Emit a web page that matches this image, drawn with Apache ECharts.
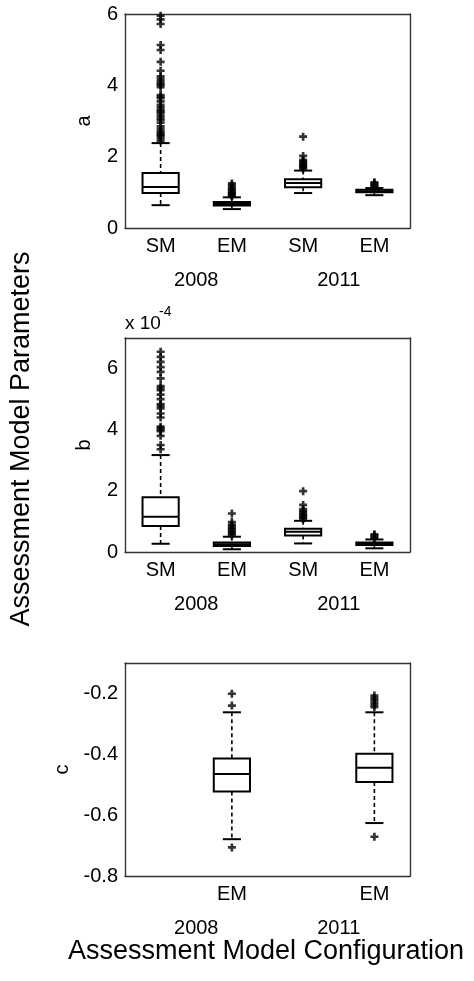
<!DOCTYPE html>
<html>
<head>
<meta charset="utf-8">
<script src="https://cdn.jsdelivr.net/npm/echarts@6/dist/echarts.min.js"></script>
<style>
  html, body { margin: 0; padding: 0; background: #fff; }
  #chart { width: 474px; height: 981px; }
</style>
</head>
<body>
<div id="chart"></div>
<script>
// Model configurations along each x axis, grouped by assessment year
const configLabels = ['SM', 'EM', 'SM', 'EM'];
const categoryKeys = ['SM 2008', 'EM 2008', 'SM 2011', 'EM 2011'];
const yearLabels = ['2008', '2011'];

// Box summaries per configuration: [lower whisker, Q1, median, Q3, upper whisker]
const aBoxes = [
  [0.64, 0.98, 1.15, 1.54, 2.38],
  [0.53, 0.63, 0.67, 0.73, 0.86],
  [0.98, 1.14, 1.26, 1.37, 1.61],
  [0.92, 1.00, 1.03, 1.07, 1.12]
];
// parameter b, in units of 1e-4
const bBoxes = [
  [0.27, 0.85, 1.15, 1.79, 3.17],
  [0.09, 0.20, 0.25, 0.31, 0.50],
  [0.28, 0.54, 0.66, 0.76, 1.02],
  [0.12, 0.23, 0.27, 0.31, 0.41]
];
const cBoxes = [
  null,
  [-0.679, -0.522, -0.465, -0.414, -0.262],
  null,
  [-0.626, -0.491, -0.444, -0.398, -0.262]
];

// Outlying values per configuration
const aOutliers = [
  [2.45, 2.52, 2.58, 2.61, 2.66, 2.71, 2.78, 2.85, 2.95, 3.02, 3.08, 3.15, 3.22, 3.27, 3.31,
   3.38, 3.45, 3.55, 3.64, 3.68, 3.73, 3.95, 4.01, 4.05, 4.11, 4.18, 4.25, 4.41, 4.66, 4.99,
   5.13, 5.72, 5.85, 5.95],
  [0.89, 0.92, 0.95, 0.98, 1.02, 1.06, 1.10, 1.15, 1.20, 1.25],
  [1.66, 1.70, 1.73, 1.76, 1.79, 1.83, 1.87, 1.91, 2.02, 2.56],
  [1.15, 1.18, 1.21, 1.25, 1.28]
];
const bOutliers = [
  [3.36, 3.50, 3.80, 3.95, 4.00, 4.05, 4.10, 4.40, 4.53, 4.70, 4.78, 4.84, 5.00, 5.15, 5.29,
   5.36, 5.43, 5.68, 5.89, 6.05, 6.22, 6.38, 6.55],
  [0.55, 0.60, 0.65, 0.70, 0.75, 0.80, 0.85, 0.90, 0.98, 1.26],
  [1.08, 1.12, 1.16, 1.20, 1.25, 1.30, 1.34, 1.40, 1.54, 1.99],
  [0.45, 0.50, 0.54, 0.58]
];
const cOutliers = [
  [],
  [-0.706, -0.240, -0.201],
  [],
  [-0.671, -0.245, -0.238, -0.230, -0.222, -0.215, -0.207]
];

// y-axis ranges and tick spacing for the three panels
const yRanges = [
  { name: 'a', min: 0, max: 6, interval: 2 },
  { name: 'b', min: 0, max: 7, interval: 2 },
  { name: 'c', min: -0.8, max: -0.1, interval: 0.2 }
];

const FONT = 'Liberation Sans, Arial, sans-serif';
const AXIS_COLOR = '#333';
const PLUS = 'path://M2,0H4V2H6V4H4V6H2V4H0V2H2Z';

const panels = [
  { boxes: aBoxes, outliers: aOutliers, top: 14, height: 214, nameGap: 31 },
  { boxes: bBoxes, outliers: bOutliers, top: 338, height: 214, nameGap: 31 },
  { boxes: cBoxes, outliers: cOutliers, top: 663, height: 213, nameGap: 42 }
];

function boxRenderer(params, api) {
  const x = api.value(0);
  const pLow = api.coord([x, api.value(1)]);
  const pQ1 = api.coord([x, api.value(2)]);
  const pMed = api.coord([x, api.value(3)]);
  const pQ3 = api.coord([x, api.value(4)]);
  const pHigh = api.coord([x, api.value(5)]);
  const band = api.size([1, 0])[0];
  const halfBox = band * 0.254;
  const halfCap = band * 0.127;
  const cx = pMed[0];
  const solid = { stroke: '#000', lineWidth: 2 };
  const dashed = { stroke: '#000', lineWidth: 1.6, lineDash: [4, 3] };
  return {
    type: 'group',
    children: [
      { type: 'line', shape: { x1: cx, y1: pHigh[1], x2: cx, y2: pQ3[1] }, style: dashed },
      { type: 'line', shape: { x1: cx, y1: pQ1[1], x2: cx, y2: pLow[1] }, style: dashed },
      { type: 'line', shape: { x1: cx - halfCap, y1: pHigh[1], x2: cx + halfCap, y2: pHigh[1] }, style: solid },
      { type: 'line', shape: { x1: cx - halfCap, y1: pLow[1], x2: cx + halfCap, y2: pLow[1] }, style: solid },
      { type: 'rect', shape: { x: cx - halfBox, y: pQ3[1], width: halfBox * 2, height: pQ1[1] - pQ3[1] },
        style: { stroke: '#000', lineWidth: 2, fill: '#fff' } },
      { type: 'line', shape: { x1: cx - halfBox, y1: pMed[1], x2: cx + halfBox, y2: pMed[1] }, style: solid }
    ]
  };
}

const grid = [], xAxis = [], yAxis = [], series = [];
const lineStyle = { color: AXIS_COLOR, width: 1.4 };
const axisLine = { show: true, onZero: false, lineStyle: lineStyle };
const tickStyle = { inside: true, length: 4, lineStyle: lineStyle };

panels.forEach(function (p, i) {
  const range = yRanges[i];
  grid.push({ left: 125, width: 285, top: p.top, height: p.height, containLabel: false });

  const shownLabels = configLabels.map(function (lab, k) { return p.boxes[k] ? lab : ''; });
  // configuration labels on the bottom edge
  xAxis.push({
    gridIndex: i, type: 'category', data: categoryKeys, position: 'bottom',
    axisLine: axisLine,
    axisTick: Object.assign({ alignWithLabel: true, interval: 0 }, tickStyle),
    axisLabel: {
      interval: 0, margin: 8, fontSize: 20, color: '#000', fontFamily: FONT,
      formatter: function (v, idx) { return shownLabels[idx]; }
    },
    splitLine: { show: false }
  });
  // mirrored top edge
  xAxis.push({
    gridIndex: i, type: 'category', data: categoryKeys, position: 'top',
    axisLine: axisLine,
    axisTick: Object.assign({ alignWithLabel: true, interval: 0 }, tickStyle),
    axisLabel: { show: false }, splitLine: { show: false }
  });
  // year row beneath the configuration labels
  xAxis.push({
    gridIndex: i, type: 'category', data: yearLabels, position: 'bottom', offset: 34,
    axisLine: { show: false, onZero: false }, axisTick: { show: false },
    axisLabel: { interval: 0, margin: 8, fontSize: 20, color: '#000', fontFamily: FONT },
    splitLine: { show: false }
  });

  yAxis.push({
    gridIndex: i, type: 'value', position: 'left',
    min: range.min, max: range.max, interval: range.interval,
    name: range.name, nameLocation: 'middle', nameGap: p.nameGap,
    nameTextStyle: { fontSize: 20, color: '#000', fontFamily: FONT },
    axisLine: axisLine,
    axisTick: tickStyle,
    axisLabel: {
      margin: 7, fontSize: 20, color: '#000', fontFamily: FONT,
      formatter: function (v) {
        const steps = (v - range.min) / range.interval;
        if (Math.abs(steps - Math.round(steps)) > 1e-6) return '';
        return range.interval < 1 ? v.toFixed(1) : String(Math.round(v));
      }
    },
    splitLine: { show: false }
  });
  yAxis.push({
    gridIndex: i, type: 'value', position: 'right',
    min: range.min, max: range.max, interval: range.interval,
    axisLine: axisLine,
    axisTick: tickStyle,
    axisLabel: { show: false }, splitLine: { show: false }
  });

  const boxData = [];
  p.boxes.forEach(function (b, k) { if (b) boxData.push([k].concat(b)); });
  series.push({
    type: 'custom', xAxisIndex: i * 3, yAxisIndex: i * 2,
    renderItem: boxRenderer, data: boxData, clip: false, silent: true,
    encode: { x: 0, y: [1, 2, 3, 4, 5] }
  });

  const outData = [];
  p.outliers.forEach(function (vals, k) { vals.forEach(function (v) { outData.push([k, v]); }); });
  series.push({
    type: 'scatter', xAxisIndex: i * 3, yAxisIndex: i * 2,
    data: outData, symbol: PLUS, symbolSize: 8,
    itemStyle: { color: '#000' }, silent: true, z: 5
  });
});

const chart = echarts.init(document.getElementById('chart'), null, { renderer: 'canvas' });
chart.setOption({
  animation: false,
  backgroundColor: '#fff',
  grid: grid,
  xAxis: xAxis,
  yAxis: yAxis,
  series: series,
  graphic: [
    { type: 'text', left: 125, top: 314,
      style: { text: 'x 10', fontSize: 19, fill: '#000', fontFamily: FONT } },
    { type: 'text', left: 159, top: 305,
      style: { text: '-4', fontSize: 14, fill: '#000', fontFamily: FONT } },
    { type: 'text', x: 22, y: 439, rotation: Math.PI / 2,
      style: { text: 'Assessment Model Parameters', fontSize: 27, fill: '#000', fontFamily: FONT,
               align: 'center', verticalAlign: 'middle', textAlign: 'center', textVerticalAlign: 'middle' } },
    { type: 'text', x: 266, y: 952,
      style: { text: 'Assessment Model Configuration', fontSize: 27, fill: '#000', fontFamily: FONT,
               align: 'center', verticalAlign: 'middle', textAlign: 'center', textVerticalAlign: 'middle' } }
  ]
});
</script>
</body>
</html>
